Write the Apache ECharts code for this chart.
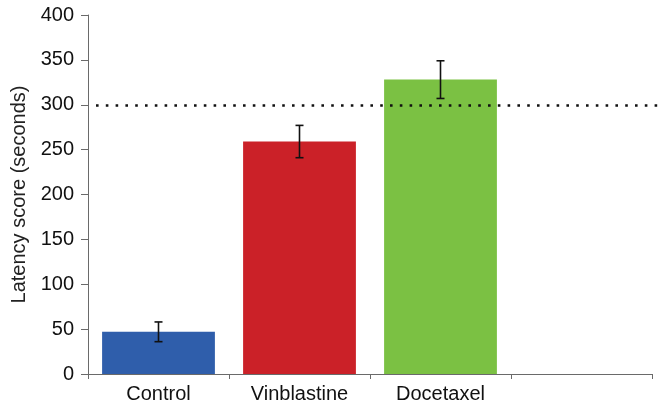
<!DOCTYPE html>
<html>
<head>
<meta charset="utf-8">
<script src="https://cdn.jsdelivr.net/npm/echarts@6/dist/echarts.min.js"></script>
<style>html,body{margin:0;padding:0;background:#fff}#c{width:665px;height:408px}</style>
</head>
<body>
<div id="c"></div>
<script>
var categories = ['Control', 'Vinblastine', 'Docetaxel', ''];
var latency = [47, 259, 328, null];
var errLow = [36, 241, 307, null];
var errHigh = [58, 277, 349, null];
var barColors = ['#2F5EAB', '#CB2128', '#7BC143'];
var threshold = 300;
var yTicks = {min: 0, max: 400, interval: 50};

var chart = echarts.init(document.getElementById('c'), null, {renderer: 'canvas'});
var FONT = '"Liberation Sans", Arial, sans-serif';
var errData = [];
for (var i = 0; i < categories.length; i++) {
  if (errLow[i] != null) errData.push([i, errLow[i], errHigh[i]]);
}
chart.setOption({
  animation: false,
  grid: {left: 88, right: 13, top: 15, bottom: 34},
  xAxis: {
    type: 'category',
    data: categories,
    axisLine: {lineStyle: {color: '#6a6a6a', width: 1}},
    axisTick: {show: true, length: 5, lineStyle: {color: '#6a6a6a'}},
    axisLabel: {color: '#111', fontSize: 20, fontFamily: FONT, margin: 10}
  },
  yAxis: {
    type: 'value',
    min: yTicks.min, max: yTicks.max, interval: yTicks.interval,
    name: 'Latency score (seconds)',
    nameLocation: 'middle',
    nameGap: 52,
    nameTextStyle: {color: '#222', fontSize: 20, fontFamily: FONT},
    axisLine: {show: true, lineStyle: {color: '#6a6a6a', width: 1}},
    axisTick: {show: true, length: 7, lineStyle: {color: '#6a6a6a'}},
    axisLabel: {color: '#111', fontSize: 20, fontFamily: FONT, margin: 14},
    splitLine: {show: false}
  },
  series: [
    {
      type: 'bar',
      data: latency.map(function (v, i) {
        return v == null ? null : {value: v, itemStyle: {color: barColors[i]}};
      }),
      barCategoryGap: '20%',
      markLine: {
        silent: true,
        symbol: ['none', 'none'],
        label: {show: false},
        lineStyle: {color: '#111', width: 2.6, type: [2.6, 7.2]},
        data: [[{yAxis: threshold, x: 96}, {yAxis: threshold, x: 662}]]
      },
      z: 2
    },
    {
      type: 'custom',
      data: errData,
      z: 5,
      renderItem: function (params, api) {
        var x = api.value(0);
        var lo = api.coord([x, api.value(1)]);
        var hi = api.coord([x, api.value(2)]);
        var w = 4;
        var st = {stroke: '#111', lineWidth: 1.6};
        return {
          type: 'group',
          children: [
            {type: 'line', shape: {x1: lo[0], y1: lo[1], x2: hi[0], y2: hi[1]}, style: st},
            {type: 'line', shape: {x1: lo[0] - w, y1: lo[1], x2: lo[0] + w, y2: lo[1]}, style: st},
            {type: 'line', shape: {x1: hi[0] - w, y1: hi[1], x2: hi[0] + w, y2: hi[1]}, style: st}
          ]
        };
      }
    }
  ]
});
</script>
</body>
</html>
